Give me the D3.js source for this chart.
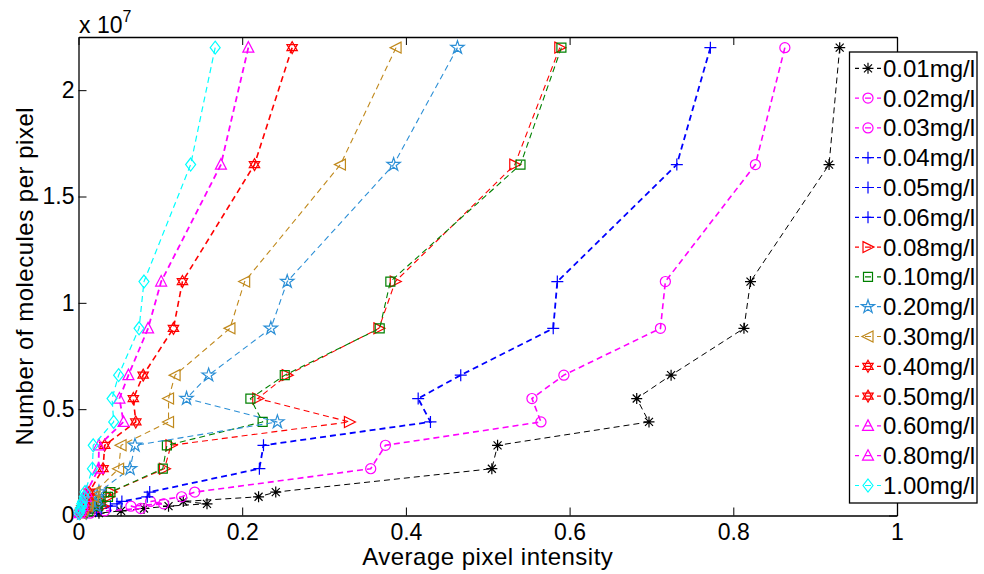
<!DOCTYPE html>
<html>
<head>
<meta charset="utf-8">
<script src="https://cdn.jsdelivr.net/npm/d3@7"></script>
<style>
  body { margin: 0; background: #fff; }
  svg text { font-family: "Liberation Sans", Arial, sans-serif; }
</style>
</head>
<body>
<div id="chart_div"></div>
<script>
// data
var yLevels = [22e6, 16.5e6, 11e6, 8.8e6, 6.6e6, 5.5e6, 4.4e6, 3.3e6, 2.2e6,
               1.1e6, 0.88e6, 0.66e6, 0.55e6, 0.44e6, 0.33e6, 0.22e6, 0.11e6];

var x001 = [0.930, 0.917, 0.821, 0.813, 0.724, 0.682, 0.697, 0.512, 0.505, 0.241, 0.220, 0.128, 0.157, 0.110, 0.080, 0.052, 0.025];
var x002 = [0.863, 0.827, 0.717, 0.711, 0.593, 0.554, 0.565, 0.375, 0.357, 0.142, 0.126, 0.088, 0.104, 0.064, 0.076, 0.032, 0.014];
var x003 = [];
var x004 = [0.772, 0.731, 0.585, 0.580, 0.467, 0.415, 0.430, 0.226, 0.221, 0.087, 0.084, 0.053, 0.047, 0.039, 0.028, 0.022, 0.010];
var x005 = [];
var x006 = [];
var x008 = [0.588, 0.533, 0.387, 0.367, 0.255, 0.219, 0.331, 0.113, 0.105, 0.040, 0.037, 0.028, 0.024, 0.030, 0.014, 0.012, 0.006];
var x010 = [0.590, 0.540, 0.381, 0.368, 0.252, 0.210, 0.225, 0.108, 0.103, 0.039, 0.036, 0.027, 0.022, 0.024, 0.013, 0.012, 0.005];
var x020 = [0.463, 0.385, 0.255, 0.235, 0.159, 0.132, 0.243, 0.069, 0.063, 0.025, 0.023, 0.016, 0.013, 0.022, 0.008, 0.007, 0.004];
var x030 = [0.388, 0.320, 0.203, 0.185, 0.118, 0.110, 0.110, 0.052, 0.049, 0.020, 0.018, 0.012, 0.011, 0.011, 0.006, 0.005, 0.003];
var x040 = [0.261, 0.215, 0.127, 0.116, 0.079, 0.067, 0.070, 0.032, 0.030, 0.013, 0.012, 0.008, 0.007, 0.007, 0.004, 0.003, 0.002];
var x050 = [];
var x060 = [0.2075, 0.174, 0.101, 0.085, 0.061, 0.050, 0.055, 0.025, 0.0245, 0.010, 0.009, 0.006, 0.005, 0.005, 0.003, 0.0025, 0.0012];
var x080 = [];
var x100 = [0.167, 0.137, 0.080, 0.074, 0.049, 0.041, 0.043, 0.018, 0.017, 0.008, 0.007, 0.005, 0.004, 0.004, 0.002, 0.002, 0.001];

var names = ["0.01mg/l", "0.02mg/l", "0.03mg/l", "0.04mg/l", "0.05mg/l", "0.06mg/l", "0.08mg/l", "0.10mg/l",
             "0.20mg/l", "0.30mg/l", "0.40mg/l", "0.50mg/l", "0.60mg/l", "0.80mg/l", "1.00mg/l"];
var xValues = [x001, x002, x003, x004, x005, x006, x008, x010, x020, x030, x040, x050, x060, x080, x100];
var colors = ["#000000", "#ff00ff", "#ff00ff", "#0000ff", "#0000ff", "#0000ff", "#ff0000", "#008000",
              "#2b8fd6", "#c0891c", "#ff0000", "#ff0000", "#ff00ff", "#ff00ff", "#00ffff"];
var markers = ["asterisk", "circle", "circle", "plus", "plus", "plus", "triR", "square",
               "star", "triL", "hexagram", "hexagram", "triU", "triU", "diamond"];
var widths = [1, 1.6, 1.6, 1.8, 1.8, 1.8, 1.1, 1.1, 1.1, 1.1, 1.6, 1.6, 1.8, 1.8, 1.2];

var xTicks = [0, 0.2, 0.4, 0.6, 0.8, 1];
var yTicks = [0, 0.5e7, 1e7, 1.5e7, 2e7];

// plot area (window.top is read-only, so own names)
var w = 984, h = 574;
var plotL = 78.5, plotR = 897, plotT = 37, plotB = 515.5;

var svg = d3.select("#chart_div")
  .append("svg")
  .attr("width", w)
  .attr("height", h);

var xScale = d3.scaleLinear().domain([0, 1]).range([plotL, plotR]);
var yScale = d3.scaleLinear().domain([0, 2.25e7]).range([plotB, plotT]);

// marker shapes, centred on 0,0
function markerPath(type) {
  if (type == "circle") return d3.symbol(d3.symbolCircle, 80)();
  if (type == "square") return "M-4.5,-4.5H4.5V4.5H-4.5Z";
  if (type == "diamond") return "M0,-6.5L5,0L0,6.5L-5,0Z";
  if (type == "star") return d3.symbol(d3.symbolStar, 55)();
  if (type == "plus") return "M-6,0H6M0,-6V6";
  if (type == "asterisk") return "M-5.5,0H5.5M0,-5.5V5.5M-4,-4L4,4M-4,4L4,-4";
  if (type == "triR") return "M-5,-5.5L6,0L-5,5.5Z";
  if (type == "triL") return "M5,-5.5L-6,0L5,5.5Z";
  if (type == "triU") return "M0,-6L5.5,4.5L-5.5,4.5Z";
  if (type == "hexagram") return "M0,-6L5.2,3L-5.2,3ZM0,6L5.2,-3L-5.2,-3Z";
}

var series = names.map(function(n, i) {
  return {
    name: n, color: colors[i], marker: markers[i], width: widths[i],
    points: xValues[i].map(function(v, j) { return [v, yLevels[j]]; })
  };
});

var line = d3.line()
  .x(function(d) { return xScale(d[0]); })
  .y(function(d) { return yScale(d[1]); });

// axes box with inward ticks
svg.append("g")
  .attr("class", "x_axis")
  .attr("transform", "translate(0," + plotB + ")")
  .call(d3.axisBottom(xScale).tickValues(xTicks).tickSizeInner(-8).tickSizeOuter(0).tickPadding(8)
    .tickFormat(function(d) { return d; }));
svg.append("g")
  .attr("transform", "translate(0," + plotT + ")")
  .call(d3.axisTop(xScale).tickValues(xTicks).tickSizeInner(-8).tickSizeOuter(0).tickFormat(""));
svg.append("g")
  .attr("class", "y_axis")
  .attr("transform", "translate(" + plotL + ",0)")
  .call(d3.axisLeft(yScale).tickValues(yTicks).tickSizeInner(-8).tickSizeOuter(0).tickPadding(4)
    .tickFormat(function(d) { return d / 1e7; }));
svg.append("g")
  .attr("transform", "translate(" + plotR + ",0)")
  .call(d3.axisRight(yScale).tickValues(yTicks).tickSizeInner(-8).tickSizeOuter(0).tickFormat(""));

svg.selectAll(".domain").attr("stroke", "#000").attr("stroke-width", 1.3);
svg.selectAll(".tick line").attr("stroke", "#000");
svg.selectAll(".tick text").attr("font-size", "23px").attr("fill", "#000");

// series lines and markers
var groups = svg.selectAll(".series").data(series).enter()
  .append("g")
  .attr("class", "series");

groups.append("path")
  .attr("d", function(d) { return line(d.points); })
  .attr("fill", "none")
  .attr("stroke", function(d) { return d.color; })
  .attr("stroke-width", function(d) { return d.width; })
  .attr("stroke-dasharray", "6,4");

groups.each(function(s) {
  d3.select(this).selectAll(".mk").data(s.points).enter()
    .append("path")
    .attr("class", "mk")
    .attr("transform", function(d) { return "translate(" + xScale(d[0]) + "," + yScale(d[1]) + ")"; })
    .attr("d", markerPath(s.marker))
    .attr("fill", "none")
    .attr("stroke", s.color)
    .attr("stroke-width", 1.2);
});

// axis labels
svg.append("text")
  .attr("x", (plotL + plotR) / 2)
  .attr("y", 565)
  .attr("text-anchor", "middle")
  .attr("font-size", "24px")
  .attr("letter-spacing", "0.5px")
  .text("Average pixel intensity");

svg.append("text")
  .attr("transform", "translate(33," + ((plotT + plotB) / 2) + ") rotate(-90)")
  .attr("text-anchor", "middle")
  .attr("font-size", "24px")
  .attr("letter-spacing", "0.5px")
  .text("Number of molecules per pixel");

var expo = svg.append("text")
  .attr("x", 79)
  .attr("y", 33)
  .attr("font-size", "23px")
  .text("x 10");
expo.append("tspan")
  .attr("dy", -11)
  .attr("font-size", "16px")
  .text("7");

// legend
var legX = 849.5, legY = 52, legW = 127.5, legH = 451, rowH = 29.8;
var legend = svg.append("g").attr("class", "legend");
legend.append("rect")
  .attr("x", legX).attr("y", legY)
  .attr("width", legW).attr("height", legH)
  .attr("fill", "#fff")
  .attr("stroke", "#000")
  .attr("stroke-width", 1.3);

var rows = legend.selectAll(".leg_row").data(series).enter()
  .append("g")
  .attr("class", "leg_row")
  .attr("transform", function(d, i) { return "translate(0," + (68.3 + i * rowH) + ")"; });

rows.append("line")
  .attr("x1", 855).attr("x2", 881)
  .attr("stroke", function(d) { return d.color; })
  .attr("stroke-width", 1.2)
  .attr("stroke-dasharray", "4,6,6,6,4");
rows.append("path")
  .attr("transform", "translate(868,0)")
  .attr("d", function(d) { return markerPath(d.marker); })
  .attr("fill", "none")
  .attr("stroke", function(d) { return d.color; })
  .attr("stroke-width", 1.2);
rows.append("text")
  .attr("x", 883)
  .attr("dy", "0.35em")
  .attr("font-size", "24px")
  .text(function(d) { return d.name; });
</script>
</body>
</html>
